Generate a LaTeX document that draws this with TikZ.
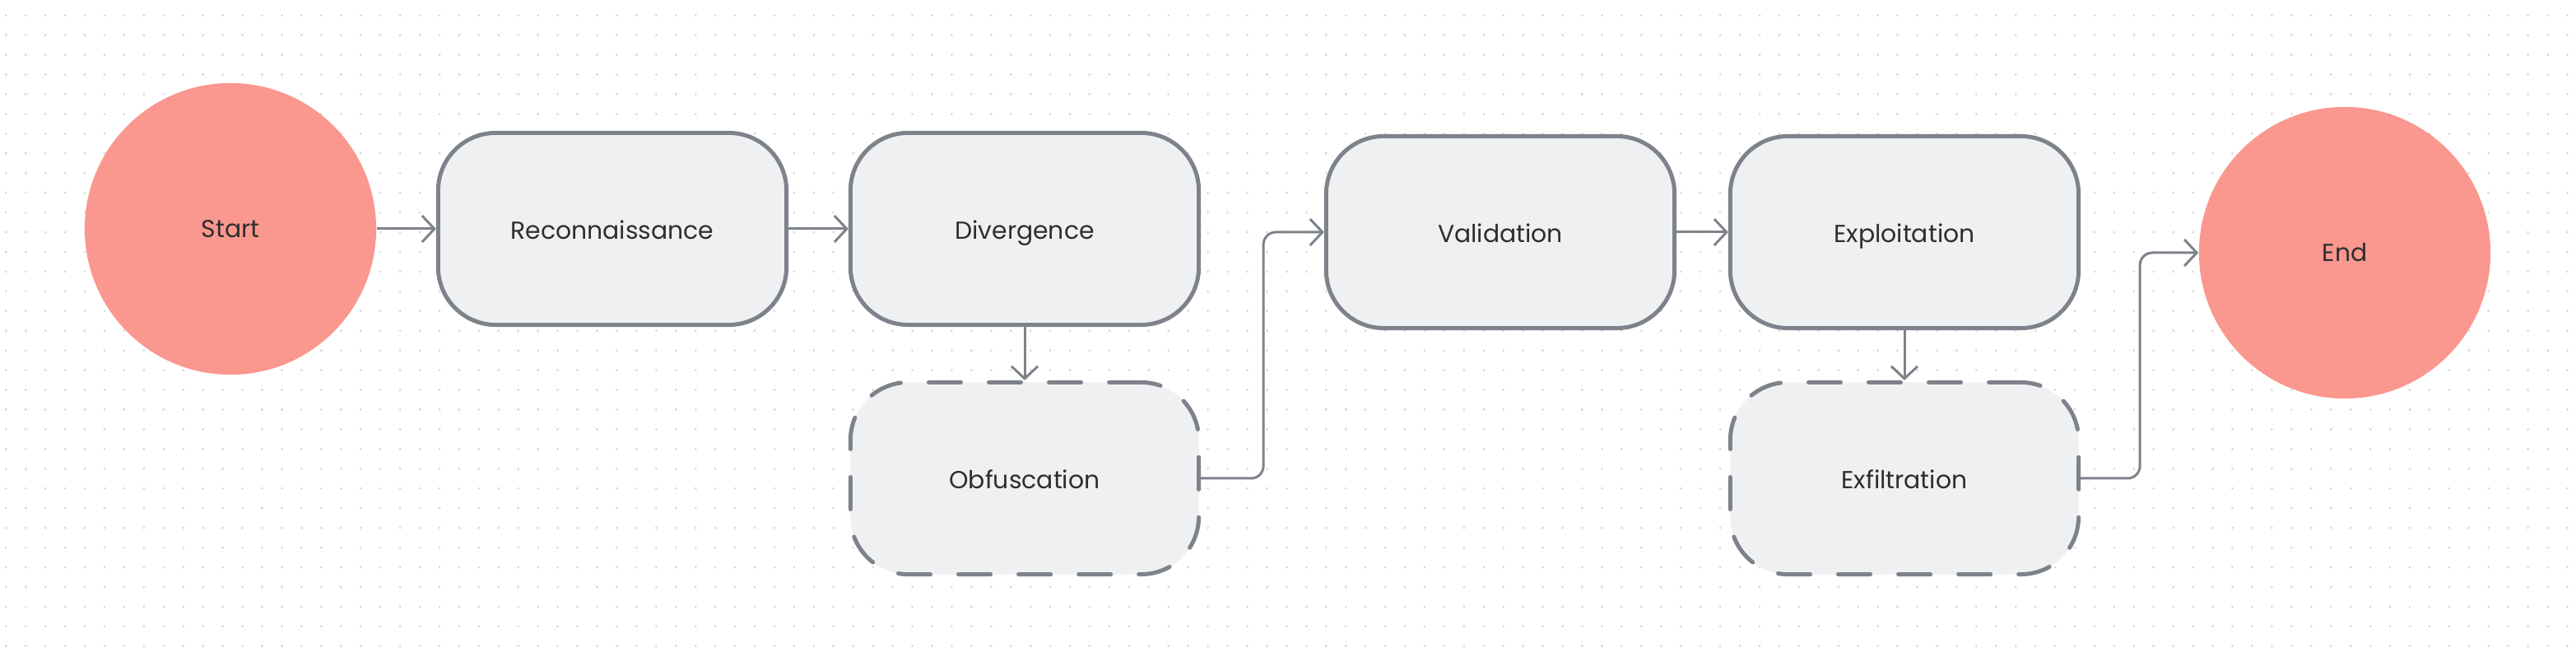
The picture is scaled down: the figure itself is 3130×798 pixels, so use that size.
\documentclass[tikz,border=0pt]{standalone}
\usepackage{fontspec}
\setmainfont{Poppins}
\usetikzlibrary{arrows.meta}
\definecolor{salmon}{HTML}{FA978E}
\definecolor{boxfill}{HTML}{EFF0F2}
\definecolor{edgegrey}{HTML}{7E828A}
\definecolor{dotgrey}{HTML}{D6D8DF}
\definecolor{inkgrey}{HTML}{2E2E30}
\begin{document}
\begin{tikzpicture}[x=0.01cm,y=-0.01cm,>={Straight Barb[length=0.15cm,width=0.32cm]},
        font=\fontsize{8.5pt}{10pt}\selectfont,text=inkgrey,
        terminal/.style={circle,fill=salmon,minimum size=3.54cm,inner sep=0pt},
        stage/.style={rounded corners=0.7cm,draw=edgegrey,fill=boxfill,line width=0.05cm,minimum width=4.23cm,minimum height=2.33cm,
            text height=0.9em,text depth=0.2em},
        hidden/.style={stage,dash pattern=on 0.39cm off 0.34cm,line cap=round},
        conn/.style={->,draw=edgegrey,line width=0.03cm,rounded corners=0.15cm}]
        \useasboundingbox (0,0) rectangle (3130,798);
        % dotted canvas
        \foreach \i in {0,...,130}
        {
            \foreach \j in {0,...,33}
            {
                \fill[dotgrey] (7.3+\i*23.94,18.7+\j*23.94) circle (0.45pt);
            }
        }
        \node[terminal] (start) at (280,278){Start};
        \node[stage] (recon) at (744,278){Reconnaissance};
        \node[stage] (diver) at (1245,278){Divergence};
        \node[hidden] (obfus) at (1245,581){Obfuscation};
        \node[stage] (valid) at (1823,282){Validation};
        \node[stage] (exploit) at (2314,282){Exploitation};
        \node[hidden] (exfil) at (2314,581){Exfiltration};
        \node[terminal] (end) at (2849,307){End};
        \draw[conn] (start) -- (recon);
        \draw[conn] (recon) -- (diver);
        \draw[conn] (diver) -- (obfus);
        \draw[conn] (obfus.east) -- ++(76,0) |- (valid.west);
        \draw[conn] (valid) -- (exploit);
        \draw[conn] (exploit) -- (exfil);
        \draw[conn] (exfil.east) -- ++(72,0) |- (end.west);
    \end{tikzpicture}
\end{document}
